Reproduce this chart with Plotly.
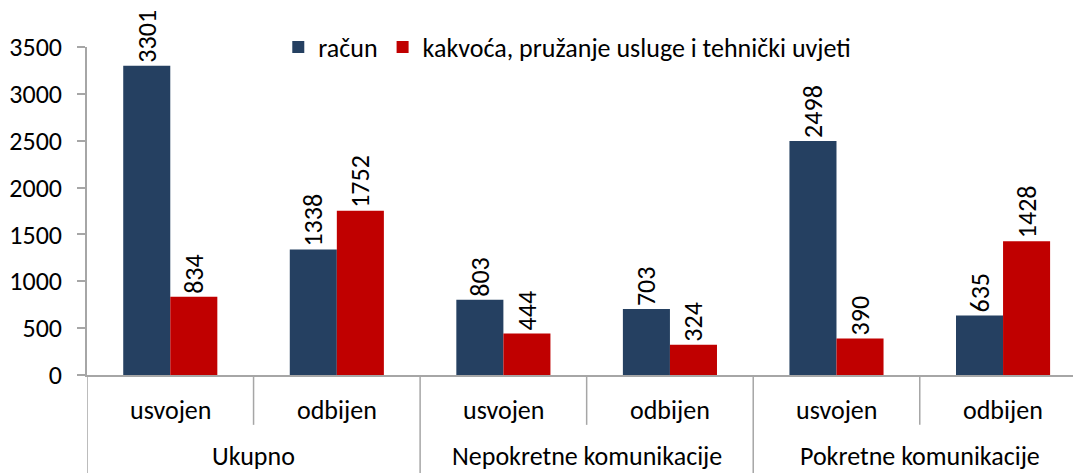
import plotly.graph_objects as go

# Categories: outer groups and inner status per group
groups = ["Ukupno", "Nepokretne komunikacije", "Pokretne komunikacije"]
statuses = ["usvojen", "odbijen"]

# Series values, ordered group by group, status within group
racun = [3301, 1338, 803, 703, 2498, 635]
kvaliteta = [834, 1752, 444, 324, 390, 1428]

series_names = ["račun", "kakvoća, pružanje usluge i tehnički uvjeti"]
series_colors = ["#254061", "#C00000"]

y_ticks = [0, 500, 1000, 1500, 2000, 2500, 3000, 3500]

FONT = "Carlito, Calibri, Lato, sans-serif"
FONT_SIZE = 26
AXIS_GRAY = "#A6A6A6"

n_slots = len(groups) * len(statuses)
x_pos = list(range(n_slots))

fig = go.Figure()
for name, vals, color in zip(series_names, [racun, kvaliteta], series_colors):
    fig.add_trace(go.Bar(
        x=x_pos, y=vals, name=name,
        marker=dict(color=color, line=dict(width=0)),
        text=[str(v) for v in vals],
        textposition="outside", textangle=-90,
        textfont=dict(family=FONT, size=FONT_SIZE, color="#000000"),
        constraintext="none", cliponaxis=False,
    ))

annotations = []
shapes = []
for gi, g in enumerate(groups):
    for si, s in enumerate(statuses):
        xi = gi * len(statuses) + si
        annotations.append(dict(
            x=xi, y=-0.107, xref="x", yref="paper", text=s, showarrow=False,
            font=dict(family=FONT, size=FONT_SIZE, color="#000000"),
            xanchor="center", yanchor="middle"))
    gc = gi * len(statuses) + (len(statuses) - 1) / 2
    annotations.append(dict(
        x=gc, y=-0.246, xref="x", yref="paper", text=g, showarrow=False,
        font=dict(family=FONT, size=FONT_SIZE, color="#000000"),
        xanchor="center", yanchor="middle"))
    # outer divider at the start of each group
    shapes.append(dict(type="line", xref="x", yref="paper",
                       x0=gi * len(statuses) - 0.5, x1=gi * len(statuses) - 0.5,
                       y0=0, y1=-0.32, line=dict(color=AXIS_GRAY, width=1.5)))
    # inner divider between statuses
    shapes.append(dict(type="line", xref="x", yref="paper",
                       x0=gi * len(statuses) + 0.5, x1=gi * len(statuses) + 0.5,
                       y0=0, y1=-0.152, line=dict(color=AXIS_GRAY, width=1.5)))

fig.update_layout(
    width=1073, height=473,
    margin=dict(l=87, r=0, t=47, b=98),
    paper_bgcolor="white", plot_bgcolor="white",
    barmode="group", bargap=0.435, bargroupgap=0,
    showlegend=True,
    legend=dict(orientation="h", x=0.194, xanchor="left", y=1.0, yanchor="middle",
                font=dict(family=FONT, size=FONT_SIZE, color="#000000"),
                bgcolor="rgba(0,0,0,0)", traceorder="normal"),
    xaxis=dict(range=[-0.5, 5.42], showticklabels=False, ticks="",
               showgrid=False, zeroline=False, showline=True,
               linecolor=AXIS_GRAY, linewidth=1.5),
    yaxis=dict(range=[0, 3500], tickvals=y_ticks,
               showgrid=False, zeroline=False, showline=True,
               linecolor=AXIS_GRAY, linewidth=1.5,
               ticks="outside", ticklen=8, tickcolor=AXIS_GRAY, tickwidth=1.5,
               ticklabelstandoff=10,
               tickfont=dict(family=FONT, size=FONT_SIZE, color="#000000")),
    annotations=annotations,
    shapes=shapes,
)

fig.write_html("out.html")
